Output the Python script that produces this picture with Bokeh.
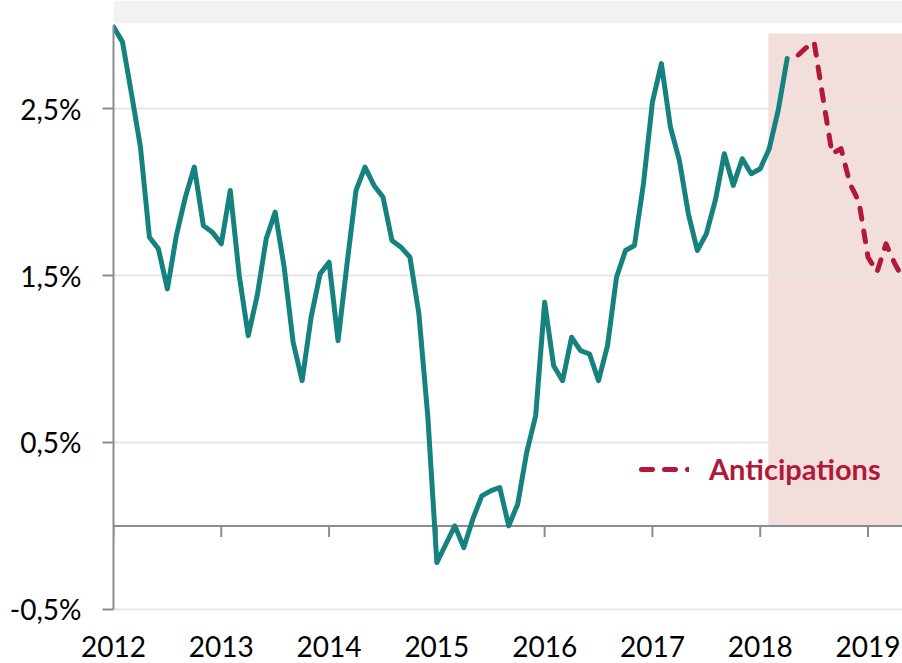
import numpy as np
from bokeh.plotting import figure
from bokeh.models import (FixedTicker, Span, BoxAnnotation, Legend, LegendItem,
                          Range1d)
from bokeh.embed import file_html
from bokeh.resources import INLINE

# ---------------- data ----------------
start_year = 2012
# monthly values, Jan 2012 .. Apr 2018 (%)
inflation = [
    2.99, 2.90, 2.59, 2.27, 1.73, 1.66, 1.42, 1.74, 1.97, 2.15, 1.80, 1.76,   # 2012
    1.69, 2.01, 1.50, 1.14, 1.38, 1.72, 1.88, 1.55, 1.10, 0.87, 1.25, 1.51,   # 2013
    1.58, 1.11, 1.57, 2.01, 2.15, 2.04, 1.97, 1.71, 1.67, 1.61, 1.27, 0.65,   # 2014
    -0.22, -0.11, 0.00, -0.13, 0.04, 0.18, 0.21, 0.23, 0.00, 0.13, 0.44, 0.66,  # 2015
    1.34, 0.96, 0.87, 1.13, 1.05, 1.03, 0.87, 1.08, 1.49, 1.65, 1.68, 2.05,   # 2016
    2.54, 2.77, 2.39, 2.19, 1.87, 1.65, 1.75, 1.95, 2.23, 2.04, 2.20, 2.11,   # 2017
    2.14, 2.26, 2.49, 2.80,                                                   # 2018
]
# anticipations, Apr 2018 .. May 2019 (%)
anticipations = [2.80, 2.81, 2.86, 2.90, 2.56, 2.23, 2.26, 2.05, 1.94,
                 1.61, 1.52, 1.69, 1.57, 1.47]

year_ticks = [2012, 2013, 2014, 2015, 2016, 2017, 2018, 2019]
year_labels = ["2012", "2013", "2014", "2015", "2016", "2017", "2018", "2019"]
y_ticks = [-0.5, 0.5, 1.5, 2.5]
y_labels = ["-0,5%", "0,5%", "1,5%", "2,5%"]
legend_label = "Anticipations"
forecast_shade_start = 2018.075
forecast_shade_top = 2.95

# ---------------- styling ----------------
TEAL = "#16827F"
RED = "#B0193A"
SHADE = "#F2DEDB"
BAND = "#F2F2F2"
AXIS = "#8C8C8C"
GRID = "#E6E6E6"
FONT = "Lato"

t_hist = [start_year + i / 12 for i in range(len(inflation))]
t_fc = [start_year + (len(inflation) - 1 + i) / 12 for i in range(len(anticipations))]

y0, y1 = -0.555, 3.148
p = figure(width=902, height=663,
           x_range=Range1d(2012, 2019.32), y_range=Range1d(y0, y1),
           output_backend="svg", toolbar_location=None,
           min_border_left=113, min_border_right=0, min_border_top=0,
           min_border_bottom=45)
p.outline_line_color = None
p.background_fill_color = "white"

# frame pixel scale for tick length
frame_h = 618
px_per_unit = frame_h / (y1 - y0)
tick_len = 11 / px_per_unit

# shaded forecast area
p.add_layout(BoxAnnotation(left=forecast_shade_start, bottom=0, top=forecast_shade_top,
                           fill_color=SHADE, fill_alpha=1.0, line_color=None, level="image"))
# gray title band at top
p.add_layout(BoxAnnotation(left=start_year, bottom=3.012,
                           fill_color=BAND, fill_alpha=1.0, line_color=None, level="image"))

# grid
p.xgrid.visible = False
p.ygrid.ticker = FixedTicker(ticks=y_ticks)
p.ygrid.grid_line_color = GRID
p.ygrid.grid_line_width = 2

# y axis
p.yaxis.ticker = FixedTicker(ticks=y_ticks)
p.yaxis.major_label_overrides = {t: l for t, l in zip(y_ticks, y_labels)}
p.yaxis.bounds = (-0.5, 3.0)
p.yaxis.axis_line_color = AXIS
p.yaxis.axis_line_width = 2
p.yaxis.major_tick_line_color = AXIS
p.yaxis.major_tick_line_width = 2
p.yaxis.major_tick_out = 11
p.yaxis.major_tick_in = 0
p.yaxis.minor_tick_line_color = None
p.yaxis.major_label_standoff = 21
p.yaxis.major_label_text_font = FONT
p.yaxis.major_label_text_font_size = "28px"
p.yaxis.major_label_text_color = "#000000"

# x axis: labels only
p.xaxis.ticker = FixedTicker(ticks=year_ticks)
p.xaxis.major_label_overrides = {t: l for t, l in zip(year_ticks, year_labels)}
p.xaxis.axis_line_color = None
p.xaxis.major_tick_line_color = None
p.xaxis.minor_tick_line_color = None
p.xaxis.major_tick_out = 0
p.xaxis.major_tick_in = 0
p.xaxis.major_label_standoff = 17
p.xaxis.major_label_text_font = FONT
p.xaxis.major_label_text_font_size = "28px"
p.xaxis.major_label_text_color = "#000000"

# zero line with year ticks
p.add_layout(Span(location=0, dimension="width", line_color=AXIS, line_width=2, level="underlay"))
p.segment(x0=year_ticks, y0=[0] * len(year_ticks), x1=year_ticks,
          y1=[-tick_len] * len(year_ticks), line_color=AXIS, line_width=2)

# series
p.line(t_hist, inflation, line_color=TEAL, line_width=5, line_join="round", line_cap="round")
fc = p.line(t_fc, anticipations, line_color=RED, line_width=5, line_dash="11 12",
            line_dash_offset=11, line_join="round", line_cap="round")

legend = Legend(items=[LegendItem(label=legend_label, renderers=[fc])],
                location=(516, 132), orientation="horizontal",
                background_fill_alpha=0, border_line_color=None,
                padding=0, margin=0, glyph_width=60, glyph_height=20,
                label_standoff=20, label_text_font=FONT, label_text_font_size="29px",
                label_text_font_style="bold", label_text_color=RED)
p.add_layout(legend)

open("out.html", "w").write(file_html(p, INLINE))
